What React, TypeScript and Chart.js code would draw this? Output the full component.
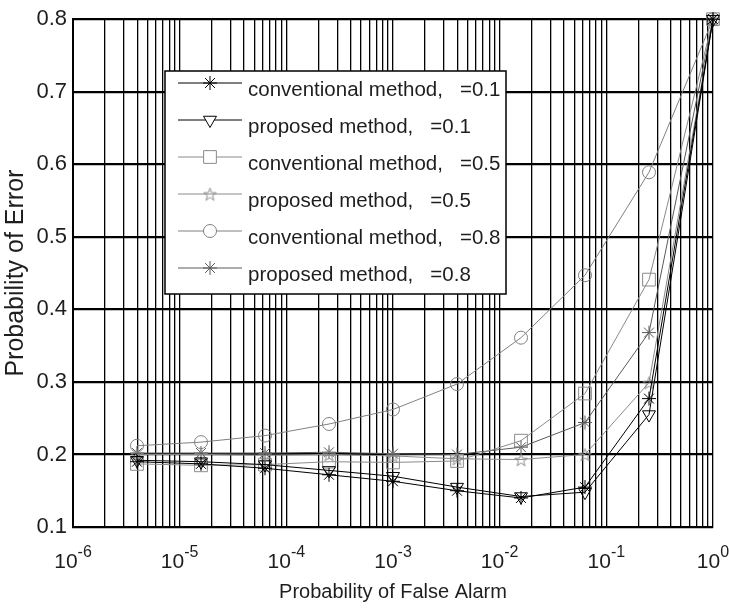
import { useEffect, useRef } from 'react';
import { Chart, registerables } from 'chart.js';
import { drawPoint } from 'chart.js/helpers';

Chart.register(...registerables);

// ---------------- data ----------------
const pfa = [3.98e-6, 1.585e-5, 6.31e-5, 2.512e-4, 1e-3, 3.981e-3, 1.585e-2, 6.31e-2, 0.2512, 1];

const conventional01 = [0.19, 0.187, 0.181, 0.172, 0.163, 0.15, 0.14, 0.155, 0.277, 0.8];
const proposed01 = [0.192, 0.19, 0.186, 0.178, 0.17, 0.155, 0.142, 0.148, 0.255, 0.8];
const conventional05 = [0.187, 0.185, 0.186, 0.19, 0.189, 0.191, 0.219, 0.284, 0.441, 0.8];
const proposed05 = [0.2, 0.2, 0.199, 0.2, 0.198, 0.194, 0.193, 0.2, 0.299, 0.8];
const conventional08 = [0.212, 0.217, 0.226, 0.242, 0.262, 0.297, 0.361, 0.447, 0.589, 0.8];
const proposed08 = [0.202, 0.202, 0.202, 0.203, 0.201, 0.2, 0.21, 0.244, 0.368, 0.8];

const seriesLabels = [
  'conventional method,   =0.1',
  'proposed method,   =0.1',
  'conventional method,   =0.5',
  'proposed method,   =0.5',
  'conventional method,   =0.8',
  'proposed method,   =0.8',
];

const xDecadeExponents = [-6, -5, -4, -3, -2, -1, 0];
const yTickValues = [0.1, 0.2, 0.3, 0.4, 0.5, 0.6, 0.7, 0.8];
const xTitle = 'Probability of False Alarm';
const yTitle = 'Probability of Error';

// ---------------- styles ----------------
const FONT = '"Liberation Sans", Arial, Helvetica, sans-serif';
const TEXT = '#1e1e1e';
const LEGEND = { left: 165, top: 71, right: 506, bottom: 294, firstRow: 83, rowStep: 37, lineX0: 178, lineX1: 242, markerX: 210, textX: 248, textDy: 12.5, fontSize: 20.5 };

function makePentagram(size: number, color: string): HTMLCanvasElement {
  const c = document.createElement('canvas');
  c.width = size;
  c.height = size;
  const ctx = c.getContext('2d')!;
  const cx = size / 2;
  const cy = size / 2 + 0.8;
  const R = size / 2 - 0.8;
  const r = R * 0.4;
  ctx.beginPath();
  for (let i = 0; i < 10; i++) {
    const a = -Math.PI / 2 + (i * Math.PI) / 5;
    const rad = i % 2 ? r : R;
    ctx.lineTo(cx + rad * Math.cos(a), cy + rad * Math.sin(a));
  }
  ctx.closePath();
  ctx.strokeStyle = color;
  ctx.lineWidth = 1;
  ctx.stroke();
  return c;
}

function gridValues(): number[] {
  const v: number[] = [];
  for (let e = -6; e < 0; e++) {
    for (let m = 1; m <= 9; m++) v.push(Number((m * Math.pow(10, e)).toPrecision(3)));
  }
  v.push(1);
  return v;
}

const legendPlugin = {
  id: 'boxLegend',
  afterDatasetsDraw(chart: any) {
    const ctx = chart.ctx as CanvasRenderingContext2D;
    const L = LEGEND;
    ctx.save();
    ctx.fillStyle = '#fff';
    ctx.fillRect(L.left, L.top, L.right - L.left, L.bottom - L.top);
    ctx.strokeStyle = '#000';
    ctx.lineWidth = 1.5;
    ctx.strokeRect(L.left, L.top, L.right - L.left, L.bottom - L.top);
    chart.data.datasets.forEach((ds: any, i: number) => {
      const y = L.firstRow + i * L.rowStep;
      ctx.strokeStyle = ds.borderColor;
      ctx.lineWidth = 1;
      ctx.beginPath();
      ctx.moveTo(L.lineX0, y);
      ctx.lineTo(L.lineX1, y);
      ctx.stroke();
      ctx.strokeStyle = ds.pointBorderColor;
      ctx.fillStyle = '#fff';
      ctx.lineWidth = 1;
      drawPoint(ctx, { pointStyle: ds.pointStyle, rotation: ds.pointRotation || 0, radius: ds.pointRadius, borderWidth: 1 } as any, L.markerX, y);
      ctx.fillStyle = TEXT;
      ctx.font = `${L.fontSize}px ${FONT}`;
      ctx.textAlign = 'left';
      ctx.textBaseline = 'alphabetic';
      ctx.fillText(ds.label, L.textX, y + L.textDy);
    });
    ctx.restore();
  },
};

const xLabelPlugin = {
  id: 'powerLabels',
  afterDraw(chart: any) {
    const ctx = chart.ctx as CanvasRenderingContext2D;
    const xs = chart.scales.x;
    const baseY = chart.chartArea.bottom + 41;
    ctx.save();
    ctx.fillStyle = TEXT;
    ctx.textAlign = 'left';
    ctx.textBaseline = 'alphabetic';
    xDecadeExponents.forEach((e) => {
      const px = xs.getPixelForValue(Math.pow(10, e));
      const base = '10';
      const exp = String(e);
      ctx.font = `21px ${FONT}`;
      const w1 = ctx.measureText(base).width;
      ctx.font = `16px ${FONT}`;
      const w2 = ctx.measureText(exp).width;
      const start = px - (w1 + w2) / 2;
      ctx.font = `21px ${FONT}`;
      ctx.fillText(base, start, baseY);
      ctx.font = `16px ${FONT}`;
      ctx.fillText(exp, start + w1, baseY - 11);
    });
    ctx.restore();
  },
};

export default function App() {
  const ref = useRef<HTMLCanvasElement>(null);

  useEffect(() => {
    const canvas = ref.current!;
    const pent = makePentagram(15, '#8a8a8a');
    const mk = (label: string, vals: number[], color: string, style: any, radius: number, rotation = 0) => ({
      label,
      data: pfa.map((x, i) => ({ x, y: vals[i] })),
      borderColor: color,
      borderWidth: 1,
      pointStyle: style,
      pointRadius: radius,
      pointRotation: rotation,
      pointBorderColor: color,
      pointBackgroundColor: 'rgba(0,0,0,0)',
      pointBorderWidth: 1,
      fill: false,
      tension: 0,
      clip: false as any,
    });
    const datasets = [
      mk(seriesLabels[0], conventional01, '#000000', 'star', 7),
      mk(seriesLabels[1], proposed01, '#000000', 'triangle', 7.5, 180),
      mk(seriesLabels[2], conventional05, '#8a8a8a', 'rect', 9),
      mk(seriesLabels[3], proposed05, '#8a8a8a', pent, 7),
      mk(seriesLabels[4], conventional08, '#808080', 'circle', 6.5),
      mk(seriesLabels[5], proposed08, '#5a5a5a', 'star', 7),
    ];
    const chart = new Chart(canvas, {
      type: 'line',
      data: { datasets } as any,
      plugins: [legendPlugin, xLabelPlugin],
      options: {
        animation: false,
        responsive: false,
        devicePixelRatio: 1,
        layout: { padding: { left: 0, right: 16, top: 19, bottom: 0 } },
        plugins: { legend: { display: false }, tooltip: { enabled: false } },
        scales: {
          x: {
            type: 'logarithmic',
            min: 1e-6,
            max: 1,
            afterBuildTicks: (s: any) => {
              s.ticks = gridValues().map((v) => ({ value: v }));
            },
            afterFit: (s: any) => {
              s.height = 81;
            },
            ticks: { autoSkip: false, maxRotation: 0, minRotation: 0, callback: () => '' },
            grid: { color: '#000', lineWidth: 1.3, drawTicks: false },
            border: { display: true, color: '#000', width: 2 },
            title: { display: true, text: xTitle, color: TEXT, font: { family: FONT, size: 20 }, padding: { top: 0, bottom: 4 } },
          },
          y: {
            type: 'linear',
            min: 0.1,
            max: 0.8,
            afterBuildTicks: (s: any) => {
              s.ticks = yTickValues.map((v) => ({ value: v }));
            },
            afterFit: (s: any) => {
              s.width = 73;
            },
            ticks: { padding: 6, color: TEXT, font: { family: FONT, size: 22 }, callback: (v: any) => Number(v).toFixed(1) },
            grid: { color: '#000', lineWidth: 2.2, drawTicks: false },
            border: { display: true, color: '#000', width: 2 },
            title: { display: true, text: yTitle, color: TEXT, font: { family: FONT, size: 25 }, padding: { top: 1, bottom: 0 } },
          },
        },
      } as any,
    });
    return () => chart.destroy();
  }, []);

  return (
    <div style={{ position: 'fixed', left: 0, top: 0, width: 729, height: 608, background: '#fff' }}>
      <canvas ref={ref} width={729} height={608} style={{ display: 'block', width: 729, height: 608 }} />
    </div>
  );
}
